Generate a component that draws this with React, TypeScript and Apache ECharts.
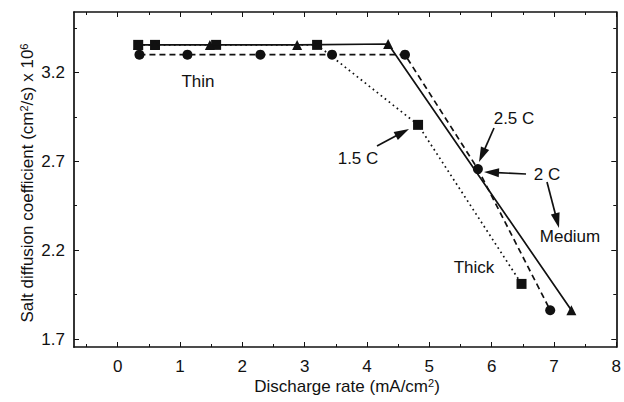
import React, { useEffect, useRef } from "react";
import * as echarts from "echarts";

// Discharge rate (mA/cm²) and salt diffusion coefficient (×10⁶ cm²/s)
const thickX = [0.33, 0.6, 1.58, 3.2, 4.82, 6.48];
const thickY = [3.355, 3.355, 3.355, 3.355, 2.905, 2.01];
const mediumX = [0.33, 0.6, 1.48, 2.88, 4.34, 7.28];
const mediumY = [3.355, 3.355, 3.355, 3.355, 3.36, 1.862];
const thinX = [0.35, 1.12, 2.29, 3.44, 4.61, 5.78, 6.94];
const thinY = [3.3, 3.3, 3.3, 3.3, 3.3, 2.656, 1.862];

const xMajor = [0, 1, 2, 3, 4, 5, 6, 7, 8];
const xMinor = [-0.5, 0.5, 1.5, 2.5, 3.5, 4.5, 5.5, 6.5, 7.5];
const yMajor = [1.7, 2.2, 2.7, 3.2];
const yMinor = [1.95, 2.45, 2.95, 3.45];

const X_MIN = -0.7;
const X_MAX = 8;
const Y_MIN = 1.655;
const Y_MAX = 3.54;

const FONT = "'Liberation Sans', Arial, Helvetica, sans-serif";
const INK = "#111";

const pair = (xs: number[], ys: number[]) => xs.map((x, i) => [x, ys[i]]);

function axis(kind: "x" | "y", position: string, ticks: number[], len: number, line: boolean, labels: boolean) {
  return {
    type: "value",
    position,
    min: kind === "x" ? X_MIN : Y_MIN,
    max: kind === "x" ? X_MAX : Y_MAX,
    splitLine: { show: false },
    axisLine: { show: line, onZero: false, lineStyle: { color: INK, width: 1.7 } },
    axisTick: {
      show: true,
      inside: true,
      length: len,
      customValues: ticks,
      lineStyle: { color: INK, width: 1 },
    },
    axisLabel: {
      show: labels,
      customValues: ticks,
      color: INK,
      fontFamily: FONT,
      fontSize: 17,
      margin: kind === "x" ? 11 : 9,
      formatter: (v: number) => (kind === "x" ? String(v) : v.toFixed(1)),
    },
  };
}

// Arrow drawn as a shaft plus a filled head, in pixel space
function arrow(x1: number, y1: number, x2: number, y2: number) {
  const dx = x2 - x1;
  const dy = y2 - y1;
  const L = Math.hypot(dx, dy);
  const ux = dx / L;
  const uy = dy / L;
  const head = 15;
  const half = 4.5;
  const bx = x2 - ux * head;
  const by = y2 - uy * head;
  return [
    {
      type: "line",
      shape: { x1, y1, x2: bx + ux * 2, y2: by + uy * 2 },
      style: { stroke: INK, lineWidth: 1.7 },
    },
    {
      type: "polygon",
      shape: {
        points: [
          [x2, y2],
          [bx - uy * half, by + ux * half],
          [bx + uy * half, by - ux * half],
        ],
      },
      style: { fill: INK },
    },
  ];
}

function label(text: string, x: number, y: number) {
  return {
    type: "text",
    x,
    y,
    style: {
      text,
      fill: INK,
      font: `17px ${FONT}`,
      align: "center",
      verticalAlign: "middle",
    },
  };
}

export default function App() {
  const ref = useRef<HTMLDivElement>(null);

  useEffect(() => {
    if (!ref.current) return;
    const chart = echarts.init(ref.current, null, { renderer: "svg" });
    const sup = { fontSize: 11, fontFamily: FONT, verticalAlign: "top", fill: INK };
    chart.setOption({
      animation: false,
      backgroundColor: "#fff",
      grid: { left: 74, right: 6, top: 12, bottom: 55 },
      xAxis: [
        axis("x", "bottom", xMajor, 5, true, true),
        axis("x", "bottom", xMinor, 3, false, false),
        axis("x", "top", xMajor, 5, true, false),
        axis("x", "top", xMinor, 3, false, false),
      ],
      yAxis: [
        axis("y", "left", yMajor, 5, true, true),
        axis("y", "left", yMinor, 3, false, false),
        axis("y", "right", yMajor, 5, true, false),
        axis("y", "right", yMinor, 3, false, false),
      ],
      series: [
        {
          name: "Thick",
          type: "line",
          data: pair(thickX, thickY),
          symbol: "rect",
          symbolSize: 10,
          itemStyle: { color: INK },
          lineStyle: { color: INK, width: 1.7, type: [1.7, 3.4] },
          z: 2,
        },
        {
          name: "Thin",
          type: "line",
          data: pair(thinX, thinY),
          symbol: "circle",
          symbolSize: 10,
          itemStyle: { color: INK },
          lineStyle: { color: INK, width: 1.7, type: [6, 4] },
          z: 3,
        },
        {
          name: "Medium",
          type: "line",
          data: pair(mediumX, mediumY),
          symbol: "triangle",
          symbolSize: 10,
          itemStyle: { color: INK },
          lineStyle: { color: INK, width: 1.7, type: "solid" },
          z: 4,
        },
      ],
      graphic: [
        label("Thin", 198, 81),
        label("1.5 C", 358, 158),
        label("2.5 C", 514, 118),
        label("2 C", 547, 174),
        label("Medium", 570, 236),
        label("Thick", 474, 267),
        ...arrow(377, 146, 409, 129),
        ...arrow(494, 128, 479, 162),
        ...arrow(526, 174, 484, 172),
        ...arrow(547, 182, 559, 228),
        {
          type: "text",
          x: 347,
          y: 386,
          style: {
            text: "Discharge rate (mA/cm{sup|2})",
            fill: INK,
            font: `17px ${FONT}`,
            align: "center",
            verticalAlign: "middle",
            rich: { sup },
          },
        },
        {
          type: "text",
          x: 27,
          y: 183,
          rotation: Math.PI / 2,
          style: {
            text: "Salt diffusion coefficient (cm{sup|2}/s) x 10{sup|6}",
            fill: INK,
            font: `17px ${FONT}`,
            align: "center",
            verticalAlign: "middle",
            rich: { sup },
          },
        },
      ],
    });
    return () => chart.dispose();
  }, []);

  return (
    <div
      ref={ref}
      style={{ position: "fixed", left: 0, top: 0, width: 624, height: 402 }}
    />
  );
}
